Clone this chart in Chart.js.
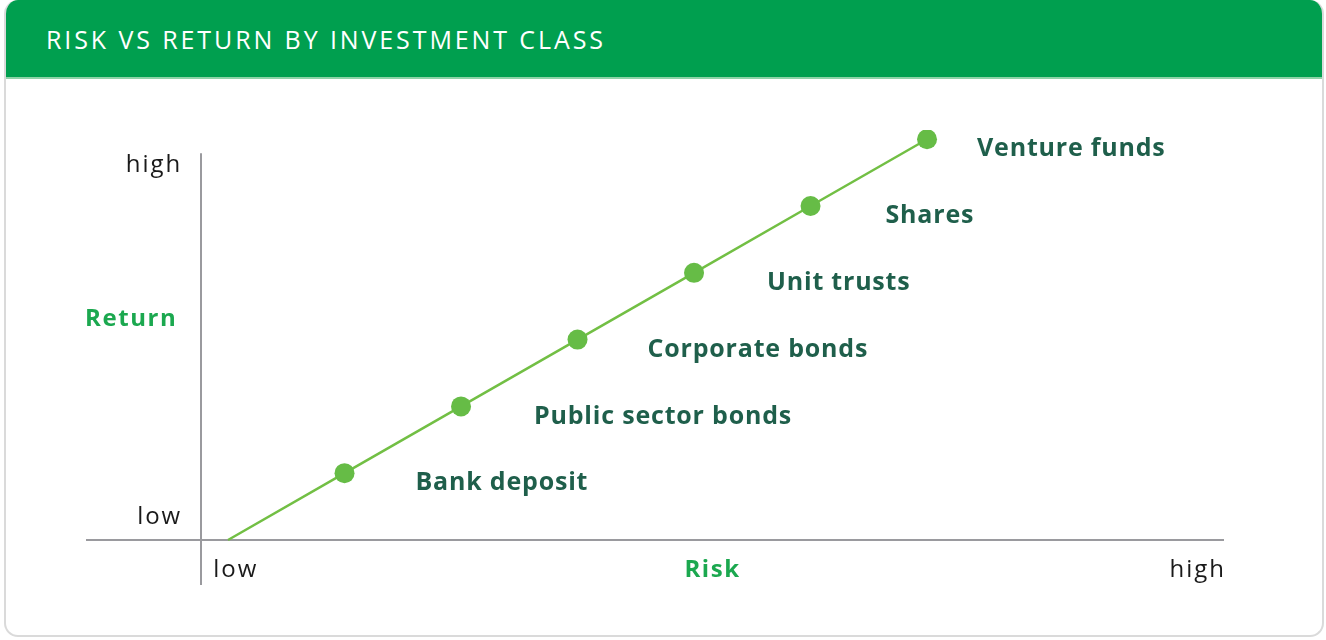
<!DOCTYPE html>
<html lang="en">
<head>
  <meta charset="UTF-8" />
  <title>Risk vs Return by Investment Class</title>
  <script src="https://cdn.jsdelivr.net/npm/chart.js"></script>
  <style>
    html, body {
      margin: 0;
      width: 1326px;
      height: 640px;
      overflow: hidden;
      background: #fff;
      font-family: 'Open Sans', sans-serif;
    }
    .card {
      position: absolute;
      left: 4px;
      top: 0;
      width: 1316px;
      height: 635px;
      border: 2px solid #dadada;
      border-top: none;
      border-radius: 14px;
      overflow: hidden;
    }
    .card header {
      height: 77px;
      background: #009f4f;
      border-bottom: 2px solid #8ed3a8;
      color: #fff;
      font-size: 25px;
      font-weight: 500;
      letter-spacing: 2.9px;
      line-height: 79px;
      padding-left: 40px;
    }
    canvas {
      position: absolute;
      left: 0;
      top: 0;
    }
  </style>
</head>
<body>
  <div class="card">
    <header>RISK VS RETURN BY INVESTMENT CLASS</header>
  </div>
  <canvas id="chart" width="1326" height="640"></canvas>

  <script>
    // data: equal steps of risk and return
    const classes = ['Bank deposit', 'Public sector bonds', 'Corporate bonds', 'Unit trusts', 'Shares', 'Venture funds'];
    const riskLevel = [1, 2, 3, 4, 5, 6];
    const returnLevel = [1, 2, 3, 4, 5, 6];
    const tickWords = ['low', 'high'];
    const axisNames = { x: 'Risk', y: 'Return' };

    const lineGreen = '#72bf44';
    const dotGreen = '#66bc46';
    const labelGreen = '#1f5f4b';
    const titleGreen = '#1ba84f';
    const axisGrey = '#9a9a9e';

    // where the axes sit, in data units
    const yAxisAtRisk = -0.23;
    const yAxisTop = 5.79;
    const labelDx = [71, 73, 70, 73, 75, 50];

    const points = [{ x: 0, y: 0 }].concat(riskLevel.map((r, i) => ({ x: r, y: returnLevel[i] })));

    const drawAxes = {
      id: 'drawAxes',
      beforeDatasetsDraw(chart) {
        const { ctx, scales: { x, y } } = chart;
        ctx.save();
        ctx.strokeStyle = axisGrey;
        ctx.lineWidth = 2;
        ctx.beginPath();
        ctx.moveTo(x.left, y.getPixelForValue(0));
        ctx.lineTo(x.right, y.getPixelForValue(0));
        const ax = Math.round(x.getPixelForValue(yAxisAtRisk));
        ctx.moveTo(ax, y.getPixelForValue(yAxisTop));
        ctx.lineTo(ax, y.bottom);
        ctx.stroke();
        ctx.restore();
      },
      afterDraw(chart) {
        const { ctx, scales: { x, y } } = chart;
        const ax = x.getPixelForValue(yAxisAtRisk);
        const ay = y.getPixelForValue(0);
        const top = y.getPixelForValue(yAxisTop);
        ctx.save();
        ctx.textBaseline = 'middle';

        // tick words
        ctx.fillStyle = '#1a1a1a';
        ctx.font = '400 24px "Open Sans"';
        ctx.letterSpacing = '2px';
        ctx.textAlign = 'right';
        ctx.fillText(tickWords[1], ax - 19, top + 12);
        ctx.fillText(tickWords[0], ax - 19, ay - 23);
        ctx.textAlign = 'left';
        ctx.fillText(tickWords[0], ax + 12, ay + 30);
        ctx.textAlign = 'right';
        ctx.fillText(tickWords[1], x.right + 2, ay + 30);

        // axis names
        ctx.fillStyle = titleGreen;
        ctx.font = '700 24px "Open Sans"';
        ctx.letterSpacing = '1.6px';
        ctx.textAlign = 'center';
        ctx.fillText(axisNames.x, (ax + x.right) / 2, ay + 30);
        ctx.textAlign = 'left';
        ctx.fillText(axisNames.y, x.left - 1, y.getPixelForValue(3.3));

        // class labels next to each dot
        ctx.fillStyle = labelGreen;
        ctx.font = '700 25px "Open Sans"';
        ctx.letterSpacing = '0.8px';
        classes.forEach((c, i) => {
          const px = x.getPixelForValue(riskLevel[i]);
          const py = y.getPixelForValue(returnLevel[i]);
          ctx.fillText(c, px + labelDx[i], py + 10);
        });
        ctx.restore();
      }
    };

    new Chart(document.getElementById('chart'), {
      type: 'scatter',
      data: {
        datasets: [{
          data: points,
          showLine: true,
          borderColor: lineGreen,
          borderWidth: 2.5,
          backgroundColor: dotGreen,
          pointBackgroundColor: dotGreen,
          pointBorderWidth: 0,
          pointRadius: points.map((p, i) => i === 0 ? 0 : 10),
          pointHoverRadius: 10
        }]
      },
      options: {
        responsive: false,
        animation: false,
        events: [],
        layout: { padding: { left: 86, right: 102, top: 130, bottom: 55 } },
        plugins: { legend: { display: false }, tooltip: { enabled: false } },
        scales: {
          x: { type: 'linear', display: false, min: -1.219, max: 8.549 },
          y: { type: 'linear', display: false, min: -0.674, max: 6.138 }
        }
      },
      plugins: [drawAxes]
    });
  </script>
</body>
</html>
